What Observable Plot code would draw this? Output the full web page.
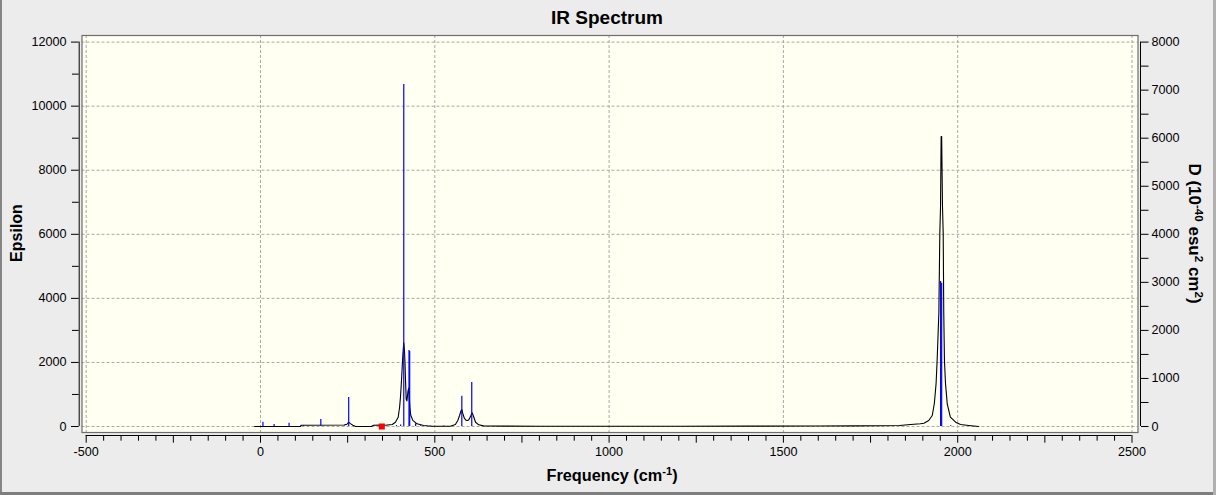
<!DOCTYPE html>
<html>
<head>
<meta charset="utf-8">
<script src="https://cdn.jsdelivr.net/npm/d3@7"></script>
<script src="https://cdn.jsdelivr.net/npm/@observablehq/plot@0.6"></script>
<style>
  html, body { margin: 0; padding: 0; background: #ececec; }
  #wrap { position: relative; width: 1216px; height: 495px; background: #ececec; overflow: hidden;
          font-family: "Liberation Sans", Arial, sans-serif; color: #000; }
  #chart { position: absolute; left: 0; top: 0; }
  .lbl { position: absolute; font-weight: bold; white-space: nowrap; line-height: 1; }
  .lbl sup { font-size: 0.68em; vertical-align: 0.55em; line-height: 0; }
  .edge { position: absolute; }
</style>
</head>
<body>
<div id="wrap">
  <div id="chart"></div>
  <div class="lbl" id="title" style="left:0;width:1214px;top:8px;text-align:center;font-size:19px;">IR Spectrum</div>
  <div class="lbl" id="xlab" style="left:0;width:1224px;top:467px;text-align:center;font-size:16.3px;">Frequency (cm<sup>-1</sup>)</div>
  <div class="lbl" id="ylab" style="left:-83px;width:200px;top:225px;text-align:center;font-size:16px;transform:rotate(-90deg);">Epsilon</div>
  <div class="lbl" id="y2lab" style="left:1094px;width:200px;top:225px;text-align:center;font-size:17px;transform:rotate(90deg);">D (10<sup>-40</sup> esu<sup>2</sup> cm<sup>2</sup>)</div>
  <div class="edge" style="left:0;top:0;width:2px;height:495px;background:#858585;"></div>
  <div class="edge" style="left:0;top:492px;width:1216px;height:3px;background:#7e7e7e;"></div>
  <div class="edge" style="left:1213px;top:0;width:3px;height:495px;background:#b0b0b0;"></div>
</div>
<script>
// ---- data ----
// computed spectrum (Epsilon, left axis)
const curveFreq = [-17, 115, 116, 240, 248, 253, 258, 265, 273, 318, 324, 345, 358, 378, 387, 395, 399, 401.5, 404.5, 406.5, 408.5, 411, 413, 414.5, 416, 418, 420, 423, 425, 427, 428.5, 431, 437, 449, 468, 490, 545, 559, 566, 571, 575.5, 577.5, 580, 585, 590, 594, 598, 603, 607, 609, 612, 617, 626, 640, 700, 800, 1000, 1200, 1400, 1600, 1700, 1778, 1833, 1865, 1893, 1903, 1917, 1927, 1933, 1938, 1941, 1946, 1948.7, 1950.7, 1952.5, 1954, 1956.4, 1958.4, 1960, 1962, 1965, 1970, 1979, 1994, 2008, 2032, 2060];
const curveEps  = [0, 0, 40, 45, 70, 134, 90, 40, 0, 0, 40, 45, 40, 62, 134, 290, 600, 915, 1440, 1850, 2270, 2610, 2370, 2000, 1440, 850, 800, 1100, 1200, 900, 600, 350, 190, 84, 31, 10, 10, 62, 187, 343, 500, 531, 420, 250, 190, 185, 220, 330, 427, 380, 290, 134, 53, 20, 12, 10, 10, 10, 12, 15, 18, 22, 31, 62, 84, 103, 187, 343, 718, 1342, 2060, 3568, 6025, 6847, 9054, 9054, 6847, 6025, 3568, 2060, 1342, 708, 290, 134, 62, 31, 0];
// stick spectrum (dipole strength D, right axis)
const stickFreq = [7, 39, 82, 123, 173, 241, 253, 390, 402, 411, 426, 428, 445, 459, 488, 526, 577.5, 606, 1951, 1954, 1980, 2035];
const stickD    = [89, 42, 69, 20, 146, 10, 603, 20, 30, 7117, 1582, 1560, 55, 15, 12, 12, 627, 915, 3020, 2980, 15, 12];
// cursor marker
const markerFreq = [348];
// axes
const xLabelTicks = [-500, 0, 500, 1000, 1500, 2000, 2500];
const xMidTicks = [-250, 250, 750, 1250, 1750, 2250];
const xMinorTicks = d3.range(-500, 2501, 50).filter(v => v % 250 !== 0);
const yTicks = [0, 2000, 4000, 6000, 8000, 10000, 12000];
const yMinorTicks = [1000, 3000, 5000, 7000, 9000, 11000];
const dTicks = [0, 1000, 2000, 3000, 4000, 5000, 6000, 7000, 8000];
const dMinorTicks = [500, 1500, 2500, 3500, 4500, 5500, 6500, 7500];
const epsPerD = 12000 / 8000;

const curve = curveFreq.map((f, i) => ({f, e: curveEps[i]}));
const sticks = stickFreq.map((f, i) => ({f, d: stickD[i]}));
const marker = markerFreq.map(f => ({f, e: 0}));

const gridStyle = {stroke: "#a9a9a9", strokeOpacity: 1, strokeDasharray: "3,2", strokeWidth: 1};
const none = () => "";
const fs = 12.6;

const chart = Plot.plot({
  width: 1216,
  height: 495,
  marginLeft: 81.5,
  marginRight: 78.5,
  marginTop: 35,
  marginBottom: 63,
  style: {background: "transparent", fontFamily: "'Liberation Sans', Arial, sans-serif", fontSize: "12px", color: "#000", overflow: "visible"},
  x: {domain: [-500, 2500], insetLeft: 4.2, insetRight: 6},
  y: {domain: [0, 12000], insetTop: 6.6, insetBottom: 6},
  marks: [
    Plot.frame({fill: "#fffff2", stroke: null}),
    Plot.gridX({ticks: xLabelTicks, ...gridStyle}),
    Plot.gridY({ticks: yTicks, ...gridStyle}),
    Plot.line(curve, {x: "f", y: "e", stroke: "#000", strokeWidth: 1.1}),
    Plot.ruleX(sticks, {x: "f", y1: 0, y2: d => d.d * epsPerD, stroke: "#0000ff", strokeWidth: 1.2}),
    Plot.dot(marker, {x: "f", y: "e", symbol: "square", fill: "#ff0000", stroke: null, r: 3.4}),
    Plot.frame({stroke: "#6d6d6d", strokeWidth: 1.2}),
    // axis lines
    Plot.ruleY([0], {x1: -500, x2: 2500, dy: 9, stroke: "#000"}),
    Plot.ruleX([-500], {y1: 0, y2: 12000, dx: -7, stroke: "#000"}),
    Plot.ruleX([2500], {y1: 0, y2: 12000, dx: 8.5, stroke: "#000"}),
    // bottom axis
    Plot.axisX({ticks: xLabelTicks, tickSize: 7.7, tickPadding: 4, dy: 3, tickFormat: d => String(d), label: null, fontSize: fs}),
    Plot.axisX({ticks: xMidTicks, tickSize: 7.7, dy: 3, tickFormat: none, label: null}),
    Plot.axisX({ticks: xMinorTicks, tickSize: 5.7, dy: 3, tickFormat: none, label: null}),
    // left axis
    Plot.axisY({ticks: yTicks, tickSize: 7.7, tickPadding: 5, dx: -2.8, tickFormat: d => String(d), label: null, fontSize: fs}),
    Plot.axisY({ticks: yMinorTicks, tickSize: 6.7, dx: -2.8, tickFormat: none, label: null}),
    // right axis (D scale)
    Plot.axisY({anchor: "right", ticks: dTicks.map(v => v * epsPerD), tickSize: 7.5, tickPadding: 3.5, dx: 2.5, tickFormat: v => String(Math.round(v / epsPerD)), label: null, fontSize: fs}),
    Plot.axisY({anchor: "right", ticks: dMinorTicks.map(v => v * epsPerD), tickSize: 7.5, dx: 2.5, tickFormat: none, label: null})
  ]
});
document.getElementById("chart").appendChild(chart);
</script>
</body>
</html>
